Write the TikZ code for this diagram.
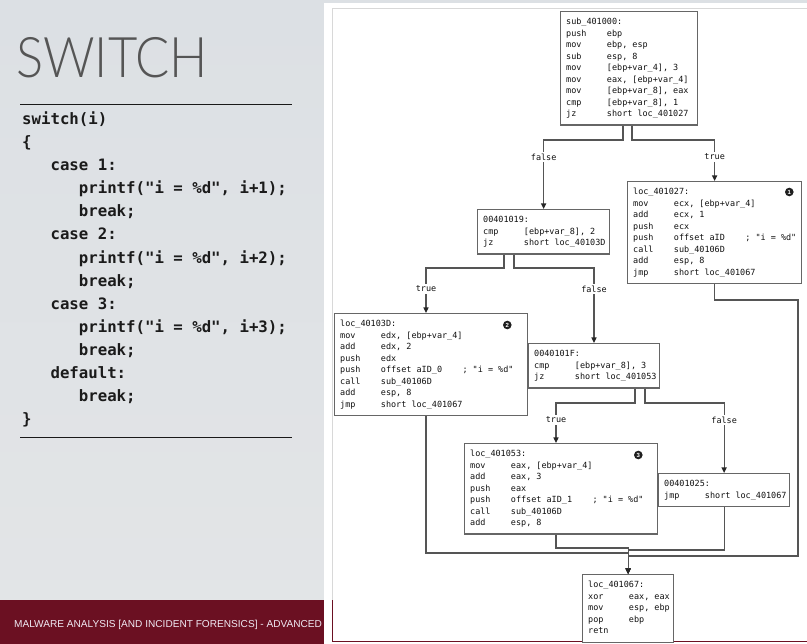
\documentclass[tikz,border=0pt]{standalone}
\usepackage{fontspec}
\usetikzlibrary{arrows.meta}
\setmainfont{Liberation Sans}
\newfontfamily\graphfont{DejaVu Sans Mono}
\newfontfamily\codefont{DejaVu Sans Mono}
\newfontfamily\footfont{Liberation Sans}
\IfFontExistsTF{Lato Light}
  {\newfontfamily\titlefont{Lato Light}}
  {\IfFontExistsTF{Fira Sans Light}
     {\newfontfamily\titlefont{Fira Sans Light}}
     {\newfontfamily\titlefont{Liberation Sans}}}

\definecolor{slideTop}{HTML}{DCE0E4}
\definecolor{slideMid}{HTML}{ECEEF0}
\definecolor{slideBot}{HTML}{E3E5E7}
\definecolor{footRed}{HTML}{6B1022}
\definecolor{footInk}{HTML}{F0EAF4}
\definecolor{titleInk}{HTML}{555555}
\definecolor{codeInk}{HTML}{1B1B1B}
\definecolor{boxLine}{HTML}{666666}
\definecolor{wireInk}{HTML}{555555}
\definecolor{asmInk}{HTML}{111111}
\definecolor{frameGray}{HTML}{D8D8D8}

% struts and column helpers for the disassembly listings
\newcommand\gs{\vrule height 8pt depth 3.5pt width 0pt}
\newcommand\cstrut{\vrule height 16pt depth 7.1pt width 0pt}
\newcommand\fixsp{\spaceskip=5.1pt\relax\xspaceskip=5.1pt\relax}
\newcommand\hdr[1]{\mbox{\fixsp\gs#1}}
\newcommand\asm[2]{\mbox{\fixsp\gs\makebox[40.8pt][l]{#1}#2}}
\newcommand\asmc[3]{\mbox{\fixsp\gs\makebox[40.8pt][l]{#1}\makebox[#3][l]{#2}; "i = \%d"}}
\newcommand\lvA{\hspace*{28.35pt}}
\newcommand\lvB{\hspace*{56.7pt}}

\begin{document}
\begin{tikzpicture}[x=1pt, y=-1pt,
  gbox/.style={draw=boxLine, line width=1.3pt, fill=white, anchor=north west,
    align=left, inner xsep=5.5pt, inner ysep=5pt, text=asmInk,
    font=\graphfont\fontsize{8.47pt}{11.5pt}\selectfont},
  conn/.style={draw=wireInk, line width=1.1pt,
    -{Triangle[length=5.5pt, width=5pt, color=black!85]}},
  lbl/.style={fill=white, inner xsep=1.5pt, inner ysep=1.5pt, text=asmInk,
    font=\graphfont\fontsize{8.47pt}{10pt}\selectfont},
  badge/.style={circle, fill=black!88, inner sep=0pt, minimum size=8.6pt,
    text=white, font=\footfont\bfseries\fontsize{6pt}{6pt}\selectfont},
  code/.style={anchor=north west, inner sep=0pt, align=left, text=codeInk,
    font=\codefont\bfseries\fontsize{15.7pt}{23.1pt}\selectfont},
  sepline/.style={draw=black!90, line width=0.9pt}
]
\useasboundingbox (0,0) rectangle (807,644);

% slide background and footer band
\fill[top color=slideTop, middle color=slideMid, bottom color=slideBot] (0,0) rectangle (807,644);
\fill[footRed] (0,600) rectangle (326,644);
\node[anchor=west, inner sep=0pt, text=footInk, font=\footfont\fontsize{10.1pt}{11pt}\selectfont]
  (foot) at (14,625) {MALWARE ANALYSIS [AND INCIDENT FORENSICS] - ADVANCED};

% title and source listing
\node[anchor=base west, inner sep=0pt, text=titleInk, font=\titlefont\fontsize{56pt}{60pt}\selectfont]
  (title) at (16,78) {\scalebox{0.905}[1]{SWITCH}};
\draw[sepline] (20,104) -- (292,104);
\draw[sepline] (20,437) -- (292,437);
\node[code] (src) at (22,108.3) {%
\cstrut switch(i)\\
\cstrut\{\\
\cstrut\lvA case 1:\\
\cstrut\lvB printf("i = \%d", i+1);\\
\cstrut\lvB break;\\
\cstrut\lvA case 2:\\
\cstrut\lvB printf("i = \%d", i+2);\\
\cstrut\lvB break;\\
\cstrut\lvA case 3:\\
\cstrut\lvB printf("i = \%d", i+3);\\
\cstrut\lvB break;\\
\cstrut\lvA default:\\
\cstrut\lvB break;\\
\cstrut\}};

% flow graph panel
\fill[white] (324,3) rectangle (807,644);
\draw[frameGray, line width=0.8pt] (332,600) -- (332,8) -- (807,8);
\draw[footRed, line width=1pt] (332,600) -- (332,641) -- (807,641);

% basic blocks
\node[gbox, text width=126pt] (A) at (560,11) {%
\hdr{sub\_401000:}\\
\asm{push}{ebp}\\
\asm{mov}{ebp, esp}\\
\asm{sub}{esp, 8}\\
\asm{mov}{[ebp+var\_4], 3}\\
\asm{mov}{eax, [ebp+var\_4]}\\
\asm{mov}{[ebp+var\_8], eax}\\
\asm{cmp}{[ebp+var\_8], 1}\\
\asm{jz}{short loc\_401027}};

\node[gbox, text width=121pt] (B) at (477,209) {%
\hdr{00401019:}\\
\asm{cmp}{[ebp+var\_8], 2}\\
\asm{jz}{short loc\_40103D}};

\node[gbox, text width=163pt] (C) at (627,181) {%
\hdr{loc\_401027:}\\
\asm{mov}{ecx, [ebp+var\_4]}\\
\asm{add}{ecx, 1}\\
\asm{push}{ecx}\\
\asmc{push}{offset aID}{71.4pt}\\
\asm{call}{sub\_40106D}\\
\asm{add}{esp, 8}\\
\asm{jmp}{short loc\_401067}};

\node[gbox, text width=182pt] (H) at (334,313) {%
\hdr{loc\_40103D:}\\
\asm{mov}{edx, [ebp+var\_4]}\\
\asm{add}{edx, 2}\\
\asm{push}{edx}\\
\asmc{push}{offset aID\_0}{81.6pt}\\
\asm{call}{sub\_40106D}\\
\asm{add}{esp, 8}\\
\asm{jmp}{short loc\_401067}};

\node[gbox, text width=120pt] (G) at (528,343) {%
\hdr{0040101F:}\\
\asm{cmp}{[ebp+var\_8], 3}\\
\asm{jz}{short loc\_401053}};

\node[gbox, text width=182pt] (E) at (464,443) {%
\hdr{loc\_401053:}\\
\asm{mov}{eax, [ebp+var\_4]}\\
\asm{add}{eax, 3}\\
\asm{push}{eax}\\
\asmc{push}{offset aID\_1}{81.6pt}\\
\asm{call}{sub\_40106D}\\
\asm{add}{esp, 8}};

\node[gbox, text width=120pt] (F) at (658,473) {%
\hdr{00401025:}\\
\asm{jmp}{short loc\_401067}};

\node[gbox, text width=80pt] (D) at (582,574) {%
\hdr{loc\_401067:}\\
\asm{xor}{eax, eax}\\
\asm{mov}{esp, ebp}\\
\asm{pop}{ebp}\\
\hdr{retn}};

% numbered markers
\node[badge] (m1) at ([xshift=-13pt, yshift=-11pt]C.north east) {1};
\node[badge] (m2) at ([xshift=-21pt, yshift=-12pt]H.north east) {2};
\node[badge] (m3) at ([xshift=-20pt, yshift=-12pt]E.north east) {3};

% routing columns and rows
\coordinate (xAf) at (623,0);
\coordinate (xAt) at (632,0);
\coordinate (xBt) at (504,0);
\coordinate (xBf) at (514,0);
\coordinate (xGt) at (635,0);
\coordinate (xGf) at (645,0);
\coordinate (xH)  at (426,0);
\coordinate (xG)  at (594,0);
\coordinate (xE)  at (556,0);
\coordinate (xR)  at (798,0);
\coordinate (rA)  at (0,140);
\coordinate (rB)  at (0,268);
\coordinate (rG)  at (0,403);
\coordinate (rC)  at (0,300);
\coordinate (mE)  at (0,548);
\coordinate (mF)  at (0,550);
\coordinate (mH)  at (0,553);
\coordinate (mC)  at (0,556);
\coordinate (lA)  at (0,157);
\coordinate (lB)  at (0,289);
\coordinate (lG)  at (0,420);

% edges
\draw[conn] (A.south -| xAf) -- (xAf |- rA) -| (B.north);
\draw[conn] (A.south -| xAt) -- (xAt |- rA) -| (C.north);
\draw[conn] (B.south -| xBt) -- (xBt |- rB) -| (H.north -| xH);
\draw[conn] (B.south -| xBf) -- (xBf |- rB) -| (G.north -| xG);
\draw[conn] (G.south -| xGt) -- (xGt |- rG) -| (E.north -| xE);
\draw[conn] (G.south -| xGf) -- (xGf |- rG) -| (F.north);
\draw[conn] (C.south) -- (C.south |- rC) -- (xR |- rC) -- (xR |- mC) -- (D.north |- mC) -- (D.north);
\draw[conn] (H.south -| xH) -- (xH |- mH) -- (D.north |- mH) -- (D.north);
\draw[conn] (E.south -| xE) -- (xE |- mE) -- (D.north |- mE) -- (D.north);
\draw[conn] (F.south) -- (F.south |- mF) -- (D.north |- mF) -- (D.north);

% branch labels
\node[lbl] (lAf) at (B.north |- lA) {false};
\node[lbl] (lAt) at (C.north |- lA) {true};
\node[lbl] (lBt) at (xH |- lB) {true};
\node[lbl] (lBf) at (xG |- lB) {false};
\node[lbl] (lGt) at (xE |- lG) {true};
\node[lbl] (lGf) at (F.north |- lG) {false};
\end{tikzpicture}
\end{document}
